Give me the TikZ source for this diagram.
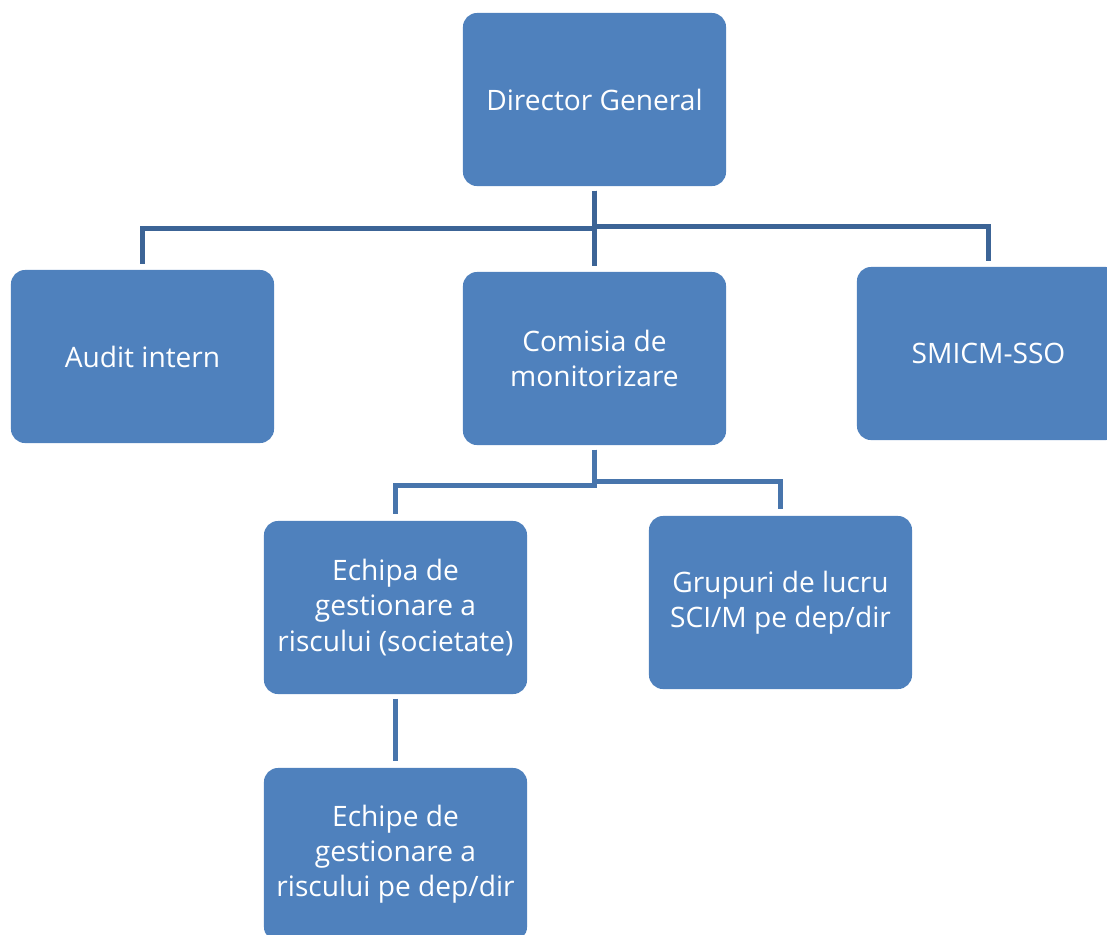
\documentclass[tikz,border=0pt]{standalone}
\usepackage{fontspec}
\setmainfont{Open Sans}
\usepackage{tikz}
\usetikzlibrary{positioning,calc}
\definecolor{boxblue}{RGB}{79, 129, 189}
\definecolor{linkdark}{RGB}{60, 100, 150}
\definecolor{linkblue}{RGB}{72, 117, 172}

\begin{document}
\begin{tikzpicture}[x=0.025cm, y=-0.025cm,
    orgbox/.style={rectangle, rounded corners=3.5mm, fill=boxblue, draw=none,
        minimum width=6.575cm, minimum height=4.325cm, inner sep=0pt,
        align=center, text=white, font=\fontsize{20}{25}\selectfont},
    toplink/.style={draw=linkdark, line width=3.6pt, shorten <=3pt, shorten >=4pt},
    sublink/.style={draw=linkblue, line width=3.6pt, shorten <=3pt, shorten >=5pt}]
        \useasboundingbox (0,0) rectangle (1107,935);
        \clip (0,0) rectangle (1107,935);

        % Top level
        \node[orgbox] (dg) at (594.5, 99.5) {Director General};

        % Second level
        \node[orgbox] (audit) at (142.5, 356.5) {Audit intern};
        \node[orgbox] (com) at (594.5, 358.5) {Comisia de\\monitorizare};
        \node[orgbox] (smicm) at (988.5, 353.5) {SMICM-SSO};

        % Third level
        \node[orgbox] (echipa) at (395.5, 607.5) {Echipa de\\gestionare a\\riscului (societate)};
        \node[orgbox] (grup) at (780.5, 602.5) {Grupuri de lucru\\SCI/M pe dep/dir};

        % Fourth level
        \node[orgbox] (echipe) at (395.5, 854.5) {Echipe de\\gestionare a\\riscului pe dep/dir};

        % Connectors from Director General
        \draw[toplink] (dg.south) -- ++(0,42) -| (audit.north);
        \draw[toplink] (dg.south) -- (com.north);
        \draw[toplink] (dg.south) -- ++(0,40) -| (smicm.north);

        % Connectors from Comisia de monitorizare
        \draw[sublink] (com.south) -- ++(0,40) -| (echipa.north);
        \draw[sublink] (com.south) -- ++(0,36) -| (grup.north);
        \draw[sublink] (echipa.south) -- (echipe.north);
    \end{tikzpicture}
\end{document}
